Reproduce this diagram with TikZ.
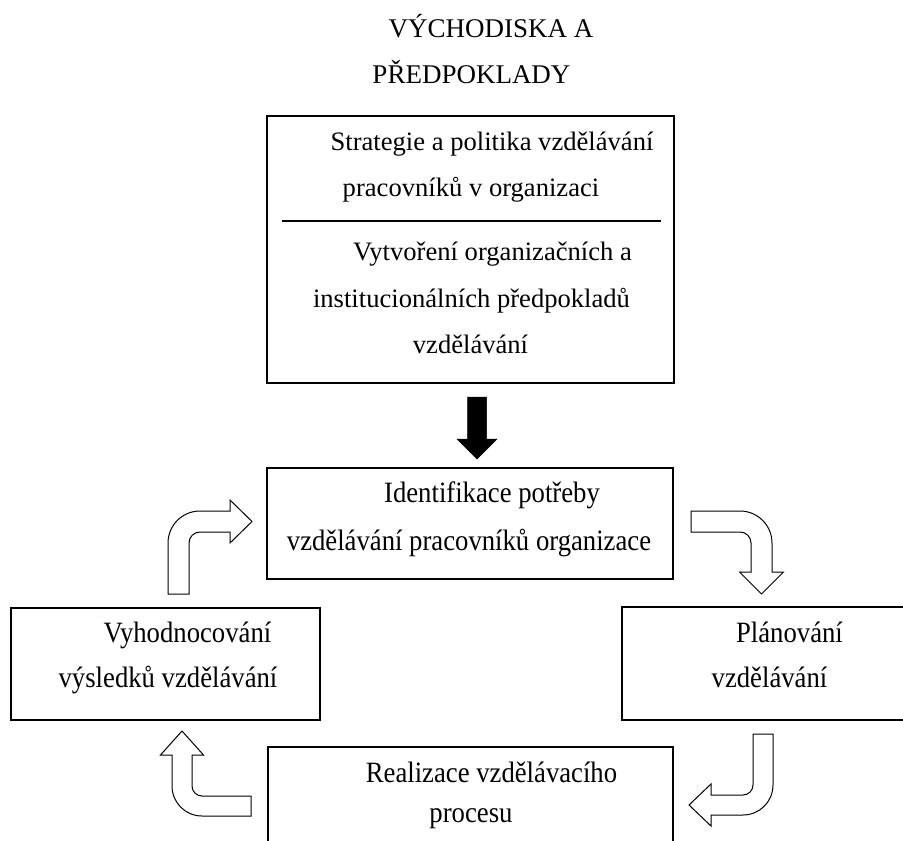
\documentclass[tikz,border=0pt]{standalone}
\usepackage{fontspec}
\setmainfont{Liberation Serif}
\newfontfamily\lwfnt[FakeStretch=0.905]{Liberation Serif}
\newcommand\titlesz{\fontsize{27pt}{32pt}\selectfont}
\newcommand\topsz{\fontsize{26.6pt}{32pt}\selectfont}
\newcommand\lwsz{\lwfnt\fontsize{29.5pt}{34pt}\selectfont}
\begin{document}
\begin{tikzpicture}[x=1pt,y=-1pt,
  box/.style={draw=black,line width=1.1pt,rectangle,inner sep=0pt},
  txt/.style={anchor=base,inner sep=0pt,outer sep=0pt},
  hollow/.style={draw=black,line width=1pt,fill=white,line join=miter},
  solidarrow/.style={fill=black,draw=black,line width=0.5pt}]
\useasboundingbox (0,0) rectangle (903,841);
\fill[white] (0,0) rectangle (903,841);

% title
\node[txt,font=\titlesz] (t1) at (491,37) {VÝCHODISKA A};
\node[txt,font=\titlesz] (t2) at (471.5,83) {PŘEDPOKLADY};

% top box
\node[box,minimum width=407pt,minimum height=267pt] (topbox) at (470.5,249.5) {};
\coordinate (dl) at (282,221);
\coordinate (dr) at (661,221);
\draw[line width=1.1pt] (dl) -- (dr);
\node[txt,font=\topsz] (a1) at (492,150) {Strategie a politika vzdělávání};
\node[txt,font=\topsz] (a2) at (471,196) {pracovníků v organizaci};
\node[txt,font=\topsz] (a3) at (492.5,260) {Vytvoření organizačních a};
\node[txt,font=\topsz] (a4) at (471.5,307) {institucionálních předpokladů};
\node[txt,font=\topsz] (a5) at (470.5,353) {vzdělávání};

% black arrow
\draw[solidarrow] (467.5,397) -- (486.5,397) -- (486.5,439) -- (497,439) -- (477,459)
  -- (457,439) -- (467.5,439) -- cycle;

% middle box
\node[box,minimum width=406pt,minimum height=111pt] (midbox) at (470,523.5) {};
\node[txt,font=\lwsz] (b1) at (492,502) {Identifikace potřeby};
\node[txt,font=\lwsz] (b2) at (469,550) {vzdělávání pracovníků organizace};

% left box
\node[box,minimum width=309pt,minimum height=112pt] (leftbox) at (165.5,664) {};
\node[txt,font=\lwsz] (c1) at (187.5,642) {Vyhodnocování};
\node[txt,font=\lwsz] (c2) at (168,687) {výsledků vzdělávání};

% right box (cut by the page edge)
\node[box,minimum width=284pt,minimum height=113pt] (rightbox) at (764,663.5) {};
\node[txt,font=\lwsz] (d1) at (789.5,642) {Plánování};
\node[txt,font=\lwsz] (d2) at (769.5,687) {vzdělávání};

% bottom box (cut by the page edge)
\node[box,minimum width=405pt,minimum height=110pt] (botbox) at (470.5,802) {};
\node[txt,font=\lwsz] (e1) at (491.5,782) {Realizace vzdělávacího};
\node[txt,font=\lwsz] (e2) at (471,822) {procesu};

% hollow bent arrow: left box -> middle box
\draw[hollow] (168,594) -- (168,543) .. controls (168,525.3) and (182.3,511) .. (200,511)
  -- (230,511) -- (230,500) -- (252,521.5) -- (230,543) -- (230,532) -- (200,532)
  .. controls (193.9,532) and (189,536.9) .. (189,543) -- (189,594) -- cycle;

% hollow bent arrow: middle box -> right box
\draw[hollow] (691,511) -- (740,511) .. controls (757.7,511) and (772,525.3) .. (772,543)
  -- (772,572) -- (783.5,572) -- (761.5,594) -- (739.5,572) -- (751,572) -- (751,543)
  .. controls (751,536.9) and (746.1,532) .. (740,532) -- (691,532) -- cycle;

% hollow bent arrow: right box -> bottom box
\draw[hollow] (753,734) -- (773,734) -- (773,785) .. controls (773,801.6) and (759.6,815) .. (743,815)
  -- (711,815) -- (711,826) -- (689,805) -- (711,784) -- (711,795) -- (743,795)
  .. controls (748.5,795) and (753,790.5) .. (753,785) -- cycle;

% hollow bent arrow: bottom box -> left box
\draw[hollow] (251,796) -- (202,796) .. controls (196.5,796) and (192,791.5) .. (192,786)
  -- (192,755) -- (203.5,755) -- (182,731) -- (160.5,755) -- (172,755) -- (172,786)
  .. controls (172,802.6) and (185.4,816) .. (202,816) -- (251,816) -- cycle;
\end{tikzpicture}
\end{document}
